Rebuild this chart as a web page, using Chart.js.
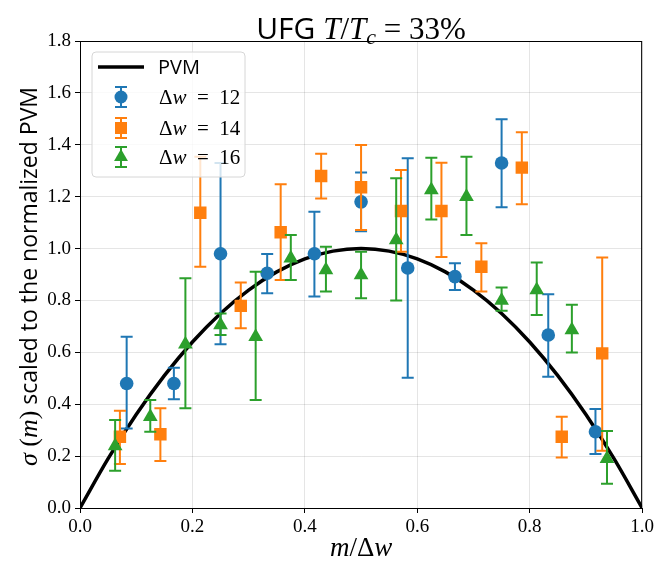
<!DOCTYPE html>
<html>
<head>
<meta charset="utf-8">
<script src="https://cdn.jsdelivr.net/npm/chart.js@4/dist/chart.umd.min.js"></script>
<style>
  html, body { margin: 0; padding: 0; background: #fff; }
  #wrap { width: 657px; height: 568px; }
</style>
</head>
<body>
<div id="wrap"><canvas id="chart" width="657" height="568"></canvas></div>
<script>
// PVM curve
const pvmX = [0, 0.05, 0.1, 0.15, 0.2, 0.25, 0.3, 0.35, 0.4, 0.45, 0.5, 0.55, 0.6, 0.65, 0.7, 0.75, 0.8, 0.85, 0.9, 0.95, 1.0];
const pvmY = [0, 0.19, 0.36, 0.51, 0.64, 0.75, 0.84, 0.91, 0.96, 0.99, 1.0, 0.99, 0.96, 0.91, 0.84, 0.75, 0.64, 0.51, 0.36, 0.19, 0];

// Δw = 12
const dw12X  = [0.083, 0.167, 0.250, 0.333, 0.417, 0.500, 0.583, 0.667, 0.750, 0.833, 0.917];
const dw12Y  = [0.48, 0.48, 0.98, 0.905, 0.98, 1.18, 0.925, 0.892, 1.33, 0.667, 0.294];
const dw12Lo = [0.306, 0.419, 0.631, 0.828, 0.815, 1.067, 0.502, 0.84, 1.159, 0.506, 0.208];
const dw12Hi = [0.66, 0.541, 1.33, 0.979, 1.142, 1.293, 1.348, 0.943, 1.498, 0.824, 0.382];

// Δw = 14
const dw14X  = [0.071, 0.143, 0.214, 0.286, 0.357, 0.429, 0.500, 0.571, 0.643, 0.714, 0.786, 0.857, 0.929];
const dw14Y  = [0.275, 0.284, 1.138, 0.779, 1.063, 1.28, 1.236, 1.145, 1.145, 0.93, 1.312, 0.275, 0.596];
const dw14Lo = [0.17, 0.181, 0.93, 0.693, 0.879, 1.193, 1.072, 0.988, 0.967, 0.834, 1.171, 0.195, 0.221];
const dw14Hi = [0.375, 0.384, 1.354, 0.869, 1.248, 1.365, 1.399, 1.303, 1.331, 1.02, 1.448, 0.352, 0.966];

// Δw = 16
const dw16X  = [0.0625, 0.125, 0.1875, 0.25, 0.3125, 0.375, 0.4375, 0.5, 0.5625, 0.625, 0.6875, 0.75, 0.8125, 0.875, 0.9375];
const dw16Y  = [0.239, 0.352, 0.631, 0.705, 0.66, 0.963, 0.917, 0.898, 1.033, 1.226, 1.20, 0.80, 0.84, 0.686, 0.19];
const dw16Lo = [0.144, 0.294, 0.384, 0.667, 0.416, 0.879, 0.834, 0.808, 0.80, 1.112, 1.052, 0.76, 0.744, 0.599, 0.093];
const dw16Hi = [0.339, 0.416, 0.886, 0.75, 0.911, 1.052, 1.007, 0.988, 1.271, 1.35, 1.354, 0.85, 0.946, 0.783, 0.297];

const BLUE = '#1f77b4';
const ORANGE = '#ff7f0e';
const GREEN = '#2ca02c';

const SERIF = '"Liberation Serif", "DejaVu Serif", serif';
const SANS = '"Open Sans", "DejaVu Sans", sans-serif';

function toPoints(xs, ys) {
    return xs.map((x, i) => ({ x: x, y: ys[i] }));
}

// 여러 폰트가 섞인 글자 한 줄 그리기
function drawRuns(ctx, runs, x, y, align) {
    let total = 0;
    runs.forEach(r => { ctx.font = r.font; total += ctx.measureText(r.text).width; });
    let cx = align === 'center' ? x - total / 2 : x;
    ctx.textBaseline = 'alphabetic';
    ctx.textAlign = 'left';
    runs.forEach(r => {
        ctx.font = r.font;
        ctx.fillText(r.text, cx, y + (r.dy || 0));
        cx += ctx.measureText(r.text).width;
    });
}

// error bars, drawn under each dataset's markers
const errorBars = {
    id: 'errorBars',
    beforeDatasetDraw(chart, args) {
        const ds = chart.data.datasets[args.index];
        if (!ds.errLo) return;
        const ctx = chart.ctx;
        const xs = chart.scales.x, ys = chart.scales.y;
        ctx.save();
        ctx.strokeStyle = ds.borderColor;
        ctx.lineWidth = 2;
        ds.data.forEach((p, i) => {
            const px = xs.getPixelForValue(p.x);
            const lo = ys.getPixelForValue(ds.errLo[i]);
            const hi = ys.getPixelForValue(ds.errHi[i]);
            ctx.beginPath();
            ctx.moveTo(px, lo); ctx.lineTo(px, hi);
            ctx.moveTo(px - 6, lo); ctx.lineTo(px + 6, lo);
            ctx.moveTo(px - 6, hi); ctx.lineTo(px + 6, hi);
            ctx.stroke();
        });
        ctx.restore();
    }
};

// top / right spines
const frame = {
    id: 'frame',
    beforeDatasetsDraw(chart) {
        const a = chart.chartArea, ctx = chart.ctx;
        ctx.save();
        ctx.strokeStyle = '#000';
        ctx.lineWidth = 1;
        ctx.strokeRect(a.left + 0.5, a.top + 0.5, a.right - a.left - 1, a.bottom - a.top);
        ctx.restore();
    }
};

// title, axis labels, legend
const texts = {
    id: 'texts',
    afterDraw(chart) {
        const ctx = chart.ctx;
        const a = chart.chartArea;
        const mid = (a.left + a.right) / 2;
        ctx.save();
        ctx.fillStyle = '#000';

        // title
        drawRuns(ctx, [
            { text: 'UFG ', font: '30px ' + SANS },
            { text: 'T', font: 'italic 31px ' + SERIF },
            { text: '/', font: '31px ' + SERIF },
            { text: 'T', font: 'italic 31px ' + SERIF },
            { text: 'c', font: 'italic 22px ' + SERIF, dy: 5 },
            { text: ' = 33%', font: '31px ' + SERIF }
        ], mid, 39, 'center');

        // x label
        drawRuns(ctx, [
            { text: 'm', font: 'italic 27px ' + SERIF },
            { text: '/Δ', font: '27px ' + SERIF },
            { text: 'w', font: 'italic 27px ' + SERIF }
        ], mid, 556, 'center');

        // y label
        ctx.save();
        ctx.translate(37, (a.top + a.bottom) / 2 + 2);
        ctx.rotate(-Math.PI / 2);
        drawRuns(ctx, [
            { text: 'σ', font: 'italic 26px ' + SERIF },
            { text: ' (', font: '26px ' + SERIF },
            { text: 'm', font: 'italic 26px ' + SERIF },
            { text: ')', font: '26px ' + SERIF },
            { text: ' scaled to the normalized PVM', font: '23px ' + SANS }
        ], 0, 0, 'center');
        ctx.restore();

        // legend box
        const lx = 92, ly = 52, lw = 153, lh = 125, r = 4;
        ctx.beginPath();
        ctx.moveTo(lx + r, ly);
        ctx.arcTo(lx + lw, ly, lx + lw, ly + lh, r);
        ctx.arcTo(lx + lw, ly + lh, lx, ly + lh, r);
        ctx.arcTo(lx, ly + lh, lx, ly, r);
        ctx.arcTo(lx, ly, lx + lw, ly, r);
        ctx.closePath();
        ctx.fillStyle = 'rgba(255,255,255,0.8)';
        ctx.fill();
        ctx.strokeStyle = '#d6d6d6';
        ctx.lineWidth = 1;
        ctx.stroke();

        // PVM entry
        ctx.strokeStyle = '#000';
        ctx.lineWidth = 3.5;
        ctx.beginPath();
        ctx.moveTo(98, 67); ctx.lineTo(144, 67);
        ctx.stroke();
        ctx.fillStyle = '#000';
        drawRuns(ctx, [{ text: 'PVM', font: '20px ' + SANS }], 158, 74, 'left');

        const entries = [
            { y: 97, color: BLUE, style: 'circle', rad: 6.5, label: '12' },
            { y: 128, color: ORANGE, style: 'rect', rad: 8.5, label: '14' },
            { y: 157, color: GREEN, style: 'triangle', rad: 8, label: '16' }
        ];
        entries.forEach(e => {
            ctx.strokeStyle = e.color;
            ctx.fillStyle = e.color;
            ctx.lineWidth = 2;
            ctx.beginPath();
            ctx.moveTo(121, e.y - 10); ctx.lineTo(121, e.y + 10);
            ctx.moveTo(115, e.y - 10); ctx.lineTo(127, e.y - 10);
            ctx.moveTo(115, e.y + 10); ctx.lineTo(127, e.y + 10);
            ctx.stroke();
            Chart.helpers.drawPoint(ctx, { pointStyle: e.style, radius: e.rad, borderWidth: 0 }, 121, e.y);
            ctx.fillStyle = '#000';
            drawRuns(ctx, [
                { text: 'Δ', font: '21px ' + SERIF },
                { text: 'w', font: 'italic 21px ' + SERIF },
                { text: '  =  ' + e.label, font: '21px ' + SERIF }
            ], 159, e.y + 7, 'left');
        });

        ctx.restore();
    }
};

const tickFont = { family: SERIF, size: 19 };

new Chart(document.getElementById('chart'), {
    type: 'scatter',
    data: {
        datasets: [
            {
                label: 'PVM',
                data: toPoints(pvmX, pvmY),
                showLine: true,
                borderColor: '#000',
                borderWidth: 3.5,
                pointRadius: 0,
                cubicInterpolationMode: 'monotone',
                order: 3
            },
            {
                label: 'Δw = 12',
                data: toPoints(dw12X, dw12Y),
                errLo: dw12Lo, errHi: dw12Hi,
                pointStyle: 'circle', pointRadius: 6.8, borderWidth: 0,
                backgroundColor: BLUE, borderColor: BLUE,
                order: 2
            },
            {
                label: 'Δw = 14',
                data: toPoints(dw14X, dw14Y),
                errLo: dw14Lo, errHi: dw14Hi,
                pointStyle: 'rect', pointRadius: 8.8, borderWidth: 0,
                backgroundColor: ORANGE, borderColor: ORANGE,
                order: 1
            },
            {
                label: 'Δw = 16',
                data: toPoints(dw16X, dw16Y),
                errLo: dw16Lo, errHi: dw16Hi,
                pointStyle: 'triangle', pointRadius: 8.5, borderWidth: 0,
                backgroundColor: GREEN, borderColor: GREEN,
                order: 0
            }
        ]
    },
    options: {
        responsive: false,
        animation: false,
        devicePixelRatio: 1,
        layout: { padding: { top: 41, right: 11, left: 0, bottom: 0 } },
        plugins: {
            legend: { display: false },
            tooltip: { enabled: false }
        },
        scales: {
            x: {
                type: 'linear',
                min: 0, max: 1,
                ticks: {
                    stepSize: 0.2,
                    color: '#000',
                    font: tickFont,
                    padding: 3,
                    maxRotation: 0,
                    callback: v => v.toFixed(1)
                },
                grid: { color: 'rgba(0,0,0,0.1)', tickColor: '#000', tickLength: 5 },
                border: { color: '#000', width: 1 },
                afterFit: s => { s.height = 60; }
            },
            y: {
                type: 'linear',
                min: 0, max: 1.8,
                ticks: {
                    stepSize: 0.2,
                    color: '#000',
                    font: tickFont,
                    padding: 4,
                    callback: v => v.toFixed(1)
                },
                grid: { color: 'rgba(0,0,0,0.1)', tickColor: '#000', tickLength: 5 },
                border: { color: '#000', width: 1 },
                afterFit: s => { s.width = 80; }
            }
        }
    },
    plugins: [errorBars, frame, texts]
});
</script>
</body>
</html>
